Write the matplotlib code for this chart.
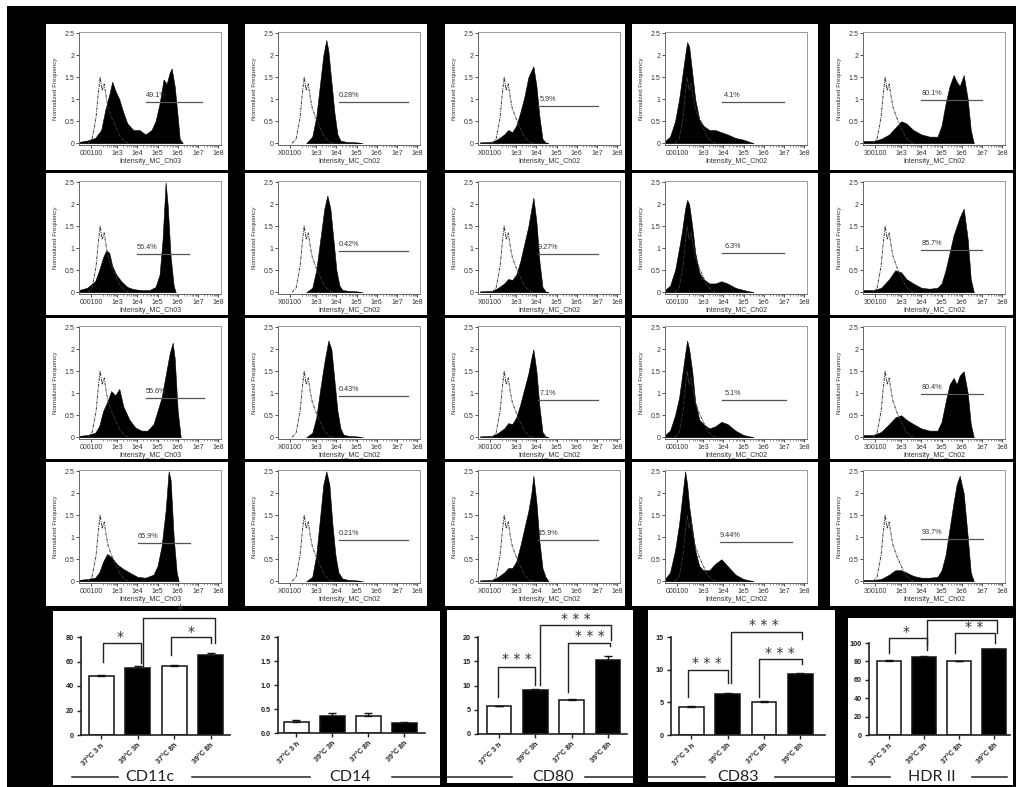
import numpy as np
import matplotlib
matplotlib.use("Agg")
import matplotlib.pyplot as plt
from matplotlib.patches import Rectangle
from matplotlib.lines import Line2D

W, H = 1016, 787

MARKERS = ["CD11c", "CD14", "CD80", "CD83", "HDR II"]
CONDITIONS = ["37°C 3 h", "39°C 3h", "37°C 8h", "39°C 8h"]
CHANNELS = ["Intensity_MC_Ch03", "Intensity_MC_Ch02", "Intensity_MC_Ch02",
            "Intensity_MC_Ch02", "Intensity_MC_Ch02"]
ZERO_TICK = ["000100", "X00100", "X00100", "000100", "300100"]

# isotype control histogram (u = log10 intensity, relative to its peak)
CTRL_OFFSET = [-0.6, -0.4, -0.2, -0.1, 0.0, 0.1, 0.2, 0.3, 0.4, 0.6, 0.8, 1.0, 1.2, 1.4]
CTRL_HEIGHT = [0.0, 0.1, 0.6, 1.1, 1.5, 1.2, 1.35, 1.05, 0.8, 0.55, 0.35, 0.15, 0.05, 0.0]
CTRL_PEAK = [2.15, 2.4, 2.4, 2.2, 2.2]

# stained histograms, one row per condition
CD11C_U = [
    [1.1, 1.5, 1.9, 2.2, 2.4, 2.6, 2.75, 2.9, 3.1, 3.3, 3.5, 3.8, 4.1, 4.4, 4.7, 4.9, 5.1, 5.3, 5.45, 5.6, 5.7, 5.85, 6.0, 6.1, 6.25],
    [1.1, 1.5, 1.9, 2.1, 2.3, 2.45, 2.6, 2.75, 2.95, 3.2, 3.5, 3.8, 4.2, 4.6, 4.9, 5.1, 5.25, 5.4, 5.5, 5.65, 5.8, 5.9],
    [1.1, 1.5, 1.9, 2.1, 2.3, 2.5, 2.7, 2.9, 3.1, 3.3, 3.6, 3.9, 4.2, 4.5, 4.8, 5.0, 5.2, 5.4, 5.6, 5.75, 5.85, 6.0, 6.15],
    [1.1, 1.5, 1.9, 2.1, 2.3, 2.5, 2.7, 3.0, 3.3, 3.6, 4.0, 4.4, 4.8, 5.0, 5.2, 5.4, 5.55, 5.65, 5.8, 5.95, 6.05],
]
CD11C_H = [
    [0.03, 0.06, 0.12, 0.3, 0.75, 1.1, 1.4, 1.2, 1.0, 0.7, 0.45, 0.3, 0.3, 0.2, 0.3, 0.5, 0.9, 1.45, 1.35, 1.6, 1.7, 1.3, 0.6, 0.1, 0.0],
    [0.05, 0.1, 0.25, 0.5, 0.8, 0.95, 0.9, 0.6, 0.4, 0.25, 0.12, 0.07, 0.05, 0.05, 0.12, 0.4, 1.2, 2.5, 2.0, 0.8, 0.15, 0.0],
    [0.03, 0.05, 0.1, 0.25, 0.6, 0.8, 1.05, 0.95, 1.1, 0.7, 0.4, 0.22, 0.15, 0.15, 0.3, 0.6, 0.9, 1.4, 1.9, 2.15, 1.8, 0.6, 0.0],
    [0.03, 0.05, 0.08, 0.2, 0.45, 0.62, 0.55, 0.38, 0.28, 0.2, 0.1, 0.08, 0.15, 0.35, 0.8, 1.6, 2.5, 2.3, 1.0, 0.2, 0.0],
]
CD14_U = [
    [2.5, 2.8, 3.0, 3.2, 3.35, 3.5, 3.6, 3.75, 3.9, 4.05, 4.2, 4.5, 5.0, 5.3],
    [2.5, 2.8, 3.0, 3.2, 3.4, 3.55, 3.7, 3.85, 4.0, 4.15, 4.3, 4.6, 5.0, 5.3],
    [2.5, 2.8, 3.0, 3.2, 3.4, 3.6, 3.75, 3.9, 4.05, 4.2, 4.35, 4.6, 5.0, 5.3],
    [2.5, 2.8, 3.0, 3.2, 3.35, 3.5, 3.65, 3.8, 3.95, 4.1, 4.3, 4.6, 5.0, 5.3],
]
CD14_H = [
    [0.0, 0.15, 0.6, 1.4, 2.0, 2.35, 2.1, 1.4, 0.7, 0.2, 0.06, 0.03, 0.02, 0.0],
    [0.0, 0.1, 0.5, 1.2, 1.9, 2.2, 1.9, 1.2, 0.5, 0.15, 0.05, 0.03, 0.02, 0.0],
    [0.0, 0.1, 0.45, 1.1, 1.7, 2.2, 2.0, 1.3, 0.6, 0.2, 0.06, 0.03, 0.02, 0.0],
    [0.0, 0.1, 0.6, 1.5, 2.2, 2.5, 2.2, 1.3, 0.6, 0.2, 0.06, 0.03, 0.02, 0.0],
]
CD80_U = [1.2, 1.8, 2.1, 2.4, 2.6, 2.8, 3.0, 3.2, 3.4, 3.6, 3.75, 3.85, 4.0, 4.15, 4.3, 4.45, 4.6]
CD80_H = [
    [0.02, 0.03, 0.1, 0.2, 0.3, 0.25, 0.4, 0.7, 1.05, 1.5, 1.65, 1.75, 1.3, 0.6, 0.1, 0.02, 0.0],
    [0.02, 0.03, 0.1, 0.2, 0.3, 0.28, 0.4, 0.7, 1.1, 1.5, 1.9, 2.15, 1.6, 0.7, 0.12, 0.02, 0.0],
    [0.02, 0.03, 0.1, 0.2, 0.32, 0.3, 0.45, 0.75, 1.1, 1.45, 1.8, 2.0, 1.5, 0.7, 0.12, 0.02, 0.0],
    [0.02, 0.03, 0.1, 0.2, 0.3, 0.3, 0.45, 0.8, 1.2, 1.6, 2.0, 2.4, 1.8, 0.9, 0.3, 0.1, 0.0],
]
CD83_U = [1.1, 1.35, 1.6, 1.8, 1.95, 2.1, 2.2, 2.3, 2.45, 2.6, 2.8, 3.0, 3.3, 3.6, 3.9, 4.2, 4.6, 5.0, 5.3, 5.5]
CD83_H = [
    [0.05, 0.15, 0.5, 1.0, 1.5, 2.0, 2.3, 2.2, 1.6, 1.0, 0.55, 0.4, 0.3, 0.3, 0.25, 0.2, 0.12, 0.08, 0.03, 0.0],
    [0.05, 0.15, 0.5, 1.0, 1.4, 1.9, 2.1, 2.0, 1.5, 0.9, 0.45, 0.3, 0.2, 0.2, 0.25, 0.2, 0.1, 0.05, 0.02, 0.0],
    [0.05, 0.15, 0.5, 0.9, 1.4, 1.9, 2.2, 2.0, 1.5, 0.8, 0.4, 0.3, 0.2, 0.25, 0.35, 0.3, 0.15, 0.05, 0.02, 0.0],
    [0.05, 0.2, 0.7, 1.3, 1.9, 2.5, 2.2, 1.7, 1.2, 0.7, 0.35, 0.25, 0.25, 0.4, 0.5, 0.35, 0.15, 0.05, 0.02, 0.0],
]
HLADR_U = [1.05, 1.6, 2.0, 2.4, 2.7, 3.0, 3.25, 3.6, 4.0, 4.4, 4.8, 5.0, 5.2, 5.4, 5.6, 5.75, 5.9, 6.1, 6.3, 6.45, 6.6]
HLADR_H = [
    [0.05, 0.05, 0.1, 0.2, 0.35, 0.5, 0.45, 0.3, 0.2, 0.15, 0.15, 0.4, 0.9, 1.3, 1.55, 1.4, 1.3, 1.55, 1.0, 0.3, 0.0],
    [0.05, 0.05, 0.1, 0.3, 0.5, 0.45, 0.3, 0.2, 0.1, 0.08, 0.1, 0.2, 0.5, 0.9, 1.3, 1.5, 1.7, 1.9, 1.2, 0.3, 0.0],
    [0.05, 0.05, 0.12, 0.3, 0.45, 0.5, 0.4, 0.3, 0.2, 0.15, 0.15, 0.35, 0.8, 1.2, 1.35, 1.2, 1.4, 1.5, 1.0, 0.3, 0.0],
    [0.03, 0.03, 0.05, 0.15, 0.25, 0.25, 0.2, 0.12, 0.08, 0.08, 0.1, 0.25, 0.6, 1.2, 1.8, 2.2, 2.4, 2.0, 1.0, 0.2, 0.0],
]

# positive gates: percentage, start/end (log10 intensity), level
GATE_PCT = [
    ["49.1%", "0.28%", "5.9%", "4.1%", "80.1%"],
    ["56.4%", "0.42%", "9.27%", "6.3%", "85.7%"],
    ["55.6%", "0.43%", "7.1%", "5.1%", "80.4%"],
    ["65.9%", "0.21%", "15.9%", "9.44%", "93.7%"],
]
GATE_START = [
    [4.43, 4.13, 4.08, 3.95, 4.0],
    [3.99, 4.13, 4.08, 3.95, 4.0],
    [4.43, 4.13, 4.08, 3.95, 4.0],
    [4.04, 4.13, 4.08, 3.85, 4.0],
]
GATE_END = [
    [7.19, 7.56, 7.07, 7.0, 7.0],
    [6.55, 7.56, 7.07, 7.0, 7.0],
    [7.29, 7.56, 7.07, 7.1, 7.05],
    [6.6, 7.56, 7.07, 7.4, 7.05],
]
GATE_LEVEL = [
    [0.93, 0.93, 0.84, 0.93, 0.99],
    [0.86, 0.93, 0.86, 0.90, 0.97],
    [0.90, 0.93, 0.84, 0.85, 0.98],
    [0.86, 0.93, 0.93, 0.90, 0.97],
]

# summary bar charts (mean, SEM), % positive cells
CD11C_MEAN = [48.5, 55.0, 56.0, 65.5]
CD11C_SEM = [0.8, 1.5, 1.2, 1.3]
CD14_MEAN = [0.23, 0.36, 0.36, 0.21]
CD14_SEM = [0.04, 0.06, 0.05, 0.02]
CD80_MEAN = [5.7, 9.0, 7.0, 15.2]
CD80_SEM = [0.15, 0.3, 0.2, 0.8]
CD83_MEAN = [4.3, 6.3, 5.1, 9.4]
CD83_SEM = [0.1, 0.1, 0.05, 0.15]
HLADR_MEAN = [80.5, 85.0, 80.5, 93.0]
HLADR_SEM = [0.5, 1.0, 0.3, 0.7]

BAR_YTICKS = [
    ([0, 20, 40, 60, 80], ["0", "20", "40", "60", "80"]),
    ([0, 0.5, 1.0, 1.5, 2.0], ["0.0", "0.5", "1.0", "1.5", "2.0"]),
    ([0, 5, 10, 15, 20], ["0", "5", "10", "15", "20"]),
    ([0, 5, 10, 15], ["0", "5", "10", "15"]),
    ([0, 20, 40, 60, 80, 100], ["0", "20", "40", "60", "80", "100"]),
]

# significance brackets: x_left, x_right, y_left, y_top, y_right, stars, star_x, star_y
BRACKETS = [
    [(0.04, 1.08, 59.6, 75, 58.8, "*", 0.53, 80),
     (1.92, 3.0, 65.3, 80, 75, "*", 2.47, 84),
     (1.14, 3.12, 55.5, 95.5, 75, "*", 2.17, 102)],
    [],
    [(-0.03, 1.0, 7.6, 13.8, 10.1, "* * *", 0.5, 15.4),
     (1.9, 3.05, 8.7, 18.8, 18.1, "* * *", 2.5, 20.2),
     (1.12, 3.08, 10.1, 22.5, 19.3, "* * *", 2.1, 23.7)],
    [(-0.1, 1.0, 5.8, 9.95, 8.0, "* * *", 0.43, 11.0),
     (1.85, 3.04, 5.8, 11.6, 10.9, "* * *", 2.43, 12.6),
     (1.1, 3.06, 8.0, 15.8, 14.7, "* * *", 2.0, 16.8)],
    [(0.0, 1.09, 89, 105.4, 97.8, "*", 0.5, 112),
     (1.9, 3.03, 89, 110.9, 100, "* *", 2.45, 117),
     (1.1, 3.09, 92.4, 125, 111, "", 0, 0)],
]

# ---------------------------------------------------------------------------
# layout (pixels, y measured from the top)
# ---------------------------------------------------------------------------
COL_X = [(46, 228), (245, 427), (445, 625), (632, 818), (830, 1013)]
ROW_Y = [(24, 170), (173, 315), (318, 459), (462, 606)]
BAR_PANELS = [(53, 611, 440, 785), (447, 610, 633, 783), (648, 610, 835, 782), (848, 618, 1013, 785)]
BAR_AXES = [(81, 637, 230, 735), (278, 637, 425, 733), (478, 637, 627, 734),
            (671, 637, 825, 735), (869, 643, 1010, 735)]
BAR_XLIM = [(-0.55, 3.53), (-0.51, 3.57), (-0.58, 3.52), (-0.56, 3.68), (-0.57, 3.46)]
CAPTION_X = [150, 350, 553, 738, 932]
CAPTION_LINES = [(72, 118), (192, 310), (392, 440), (447, 512), (585, 633),
                 (648, 705), (775, 835), (852, 890), (972, 1007)]
CAPTION_Y = 777


def fig_rect(x0, y0, x1, y1):
    return [x0 / W, 1 - y1 / H, (x1 - x0) / W, (y1 - y0) / H]


def white_box(fig, x0, y0, x1, y1):
    fig.add_artist(Rectangle((x0 / W, 1 - y1 / H), (x1 - x0) / W, (y1 - y0) / H,
                             transform=fig.transFigure, facecolor="white",
                             edgecolor="none", zorder=-10))


def draw_histogram(ax, u, h, col, row):
    ax.fill_between(u, h, color="black", lw=0.4, zorder=2)
    cu = np.asarray(CTRL_OFFSET) + CTRL_PEAK[col]
    ax.plot(cu, CTRL_HEIGHT, color="#3a3a3a", lw=0.7, ls=(0, (3, 1, 1, 1)), zorder=3)

    g0, g1, lvl = GATE_START[row][col], GATE_END[row][col], GATE_LEVEL[row][col]
    ax.plot([g0, g1], [lvl, lvl], color="#555555", lw=0.9, zorder=4)
    ax.text(g0 + 0.5, lvl + 0.07, GATE_PCT[row][col], fontsize=5.2, color="#333333",
            ha="center", va="bottom", family="Liberation Sans")

    ax.set_xlim(1.1, 8.15)
    ax.set_ylim(-0.04, 2.53)
    ax.set_xticks([1.7, 3, 4, 5, 6, 7, 8])
    ax.set_xticklabels([ZERO_TICK[col], "1e3", "1e4", "1e5", "1e6", "1e7", "1e8"])
    minor = [d + np.log10(k) for d in range(2, 8) for k in range(2, 10)]
    ax.set_xticks([m for m in minor if 1.2 < m < 8.1], minor=True)
    ax.set_yticks([0, 0.5, 1, 1.5, 2, 2.5])
    ax.set_yticklabels(["0", "0.5", "1", "1.5", "2", "2.5"])
    ax.tick_params(axis="both", which="major", length=2, width=0.6, pad=1.5,
                   labelsize=5.0, colors="#333333")
    ax.tick_params(axis="x", which="minor", length=1.2, width=0.4, color="#444444")
    for lab in ax.get_xticklabels() + ax.get_yticklabels():
        lab.set_family("Liberation Sans")
    for name, sp in ax.spines.items():
        sp.set_linewidth(0.7)
        sp.set_color("#666666" if name in ("left", "bottom") else "#9a9a9a")
    ax.set_xlabel(CHANNELS[col], fontsize=5.0, color="#333333", family="Liberation Sans")
    ax.set_ylabel("Normalized Frequency", fontsize=4.5, color="#333333", family="Liberation Sans")
    ax.xaxis.set_label_coords(0.5, -0.115)
    ax.yaxis.set_label_coords(-0.15, 0.5)


def draw_bars(ax, mean, sem, idx):
    x = np.arange(len(mean))
    colors = ["white", "black", "white", "black"]
    ax.bar(x, mean, width=0.68, color=colors, edgecolor="#111111", linewidth=1.1, zorder=2)
    ax.errorbar(x, mean, yerr=[np.zeros(len(sem)), sem], fmt="none", ecolor="#111111",
                elinewidth=1.0, capsize=3, capthick=1.0, zorder=3)

    ticks, labels = BAR_YTICKS[idx]
    ax.set_ylim(0, ticks[-1])
    ax.set_xlim(*BAR_XLIM[idx])
    ax.set_yticks(ticks)
    ax.set_yticklabels(labels)
    ax.set_xticks(x)
    ax.set_xticklabels(CONDITIONS, rotation=45, ha="right", rotation_mode="anchor")
    ax.tick_params(axis="both", length=3, width=1.0, pad=2, labelsize=5.2,
                   colors="#222222")
    for lab in ax.get_xticklabels() + ax.get_yticklabels():
        lab.set_fontweight("bold")
        lab.set_family("Liberation Sans")
    ax.spines["top"].set_visible(False)
    ax.spines["right"].set_visible(False)
    for name in ("left", "bottom"):
        ax.spines[name].set_linewidth(1.2)
        ax.spines[name].set_color("#222222")
    ax.patch.set_alpha(0)

    for xl, xr, yl, yt, yr, stars, sx, sy in BRACKETS[idx]:
        ax.plot([xl, xl, xr, xr], [yl, yt, yt, yr], color="#222222", lw=1.0,
                clip_on=False, zorder=4)
        if stars:
            ax.text(sx, sy, stars, fontsize=10, color="#333333", ha="center",
                    va="center", clip_on=False)


fig = plt.figure(figsize=(W / 100, H / 100), dpi=100, facecolor="black")

# white margins along the top and left edges
white_box(fig, 0, 0, W, 6)
white_box(fig, 0, 0, 7, H)

hist_u = [CD11C_U, CD14_U, [CD80_U] * 4, [CD83_U] * 4, [HLADR_U] * 4]
hist_h = [CD11C_H, CD14_H, CD80_H, CD83_H, HLADR_H]

for col, (x0, x1) in enumerate(COL_X):
    for row, (y0, y1) in enumerate(ROW_Y):
        white_box(fig, x0, y0, x1, y1)
        ax = fig.add_axes(fig_rect(x0 + 33, y0 + 8, x0 + 33 + 142, y0 + 121))
        draw_histogram(ax, hist_u[col][row], hist_h[col][row], col, row)

for box in BAR_PANELS:
    white_box(fig, *box)

bar_means = [CD11C_MEAN, CD14_MEAN, CD80_MEAN, CD83_MEAN, HLADR_MEAN]
bar_sems = [CD11C_SEM, CD14_SEM, CD80_SEM, CD83_SEM, HLADR_SEM]
for i, box in enumerate(BAR_AXES):
    ax = fig.add_axes(fig_rect(*box))
    draw_bars(ax, bar_means[i], bar_sems[i], i)

# marker captions under the bar charts
for xa, xb in CAPTION_LINES:
    fig.add_artist(Line2D([xa / W, xb / W], [1 - CAPTION_Y / H] * 2,
                          transform=fig.transFigure, color="#222222", lw=1.1))
for name, xc in zip(MARKERS, CAPTION_X):
    fig.text(xc / W, 1 - CAPTION_Y / H, name, fontsize=11.5, family="Lato",
             color="#222222", ha="center", va="center")

fig.savefig("out.png", dpi=100, facecolor="black")
